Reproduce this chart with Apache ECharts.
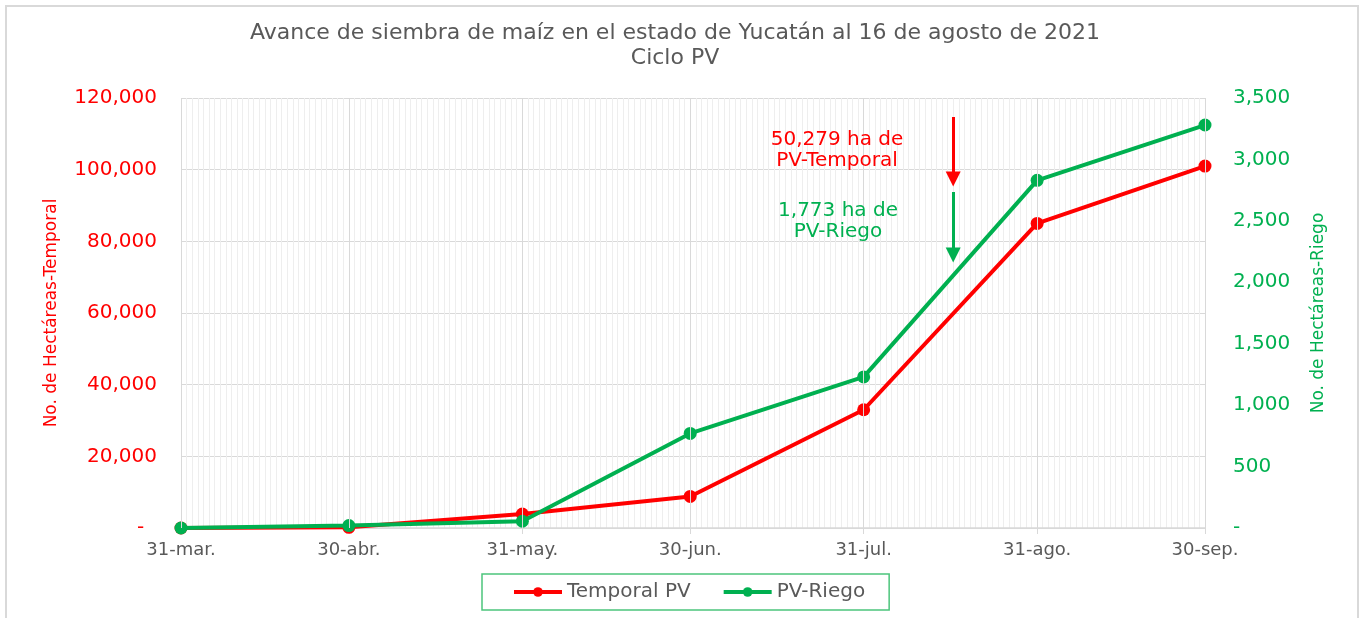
<!DOCTYPE html>
<html>
<head>
<meta charset="utf-8">
<script src="https://cdn.jsdelivr.net/npm/echarts@6/dist/echarts.min.js"></script>
<style>html,body{margin:0;padding:0;background:#fff;}#c{width:1364px;height:618px;}</style>
</head>
<body>
<div id="c"></div>
<script>
const dates = ['2021-03-31','2021-04-30','2021-05-31','2021-06-30','2021-07-31','2021-08-31','2021-09-30'];
const dateLabels = ['31-mar.','30-abr.','31-may.','30-jun.','31-jul.','31-ago.','30-sep.'];
const temporal = [0, 200, 3900, 8800, 33000, 85000, 101000];
const riego = [0, 20, 55, 770, 1230, 2830, 3280];
const leftAxis = {min: 0, max: 120000, interval: 20000};
const rightAxis = {min: 0, max: 3500, interval: 500};
const cutoffDate = '2021-08-16';
const temporalArrow = [114700, 97400];
const riegoArrow = [2735, 2222];
const temporalNote = '50,279 ha de\nPV-Temporal';
const riegoNote = '1,773 ha de\nPV-Riego';
const titleText = 'Avance de siembra de maíz en el estado de Yucatán al 16 de agosto de 2021\nCiclo PV';

const DAY = 86400000;
function ts(s){const p=s.split('-').map(Number);return Date.UTC(p[0],p[1]-1,p[2]);}
function dayIdx(s){return Math.round((ts(s) - ts(dates[0]))/DAY);}
const dayPos = dates.map(dayIdx);
const nDays = dayPos[dayPos.length-1];
const labelMap = {};
dayPos.forEach((d,i)=>{labelMap[d] = dateLabels[i];});

const FONT = 'DejaVu Sans';
const RED = '#ff0000', GREEN = '#00b050', GRAY = '#595959';

const chart = echarts.init(document.getElementById('c'));
chart.setOption({
  animation: false,
  textStyle: {fontFamily: FONT},
  grid: {left: 181, right: 159, top: 98, bottom: 90, containLabel: false},
  graphic: [
    {type: 'rect', z: 0, shape: {x: 6, y: 6, width: 1352, height: 640}, style: {fill: 'none', stroke: '#d9d9d9', lineWidth: 2}, silent: true},
    {type: 'text', z: 10, x: 675, y: 46, silent: true, style: {text: titleText, fill: GRAY, fontSize: 22, fontFamily: FONT, align: 'center', verticalAlign: 'middle', lineHeight: 25}},
    {type: 'text', z: 10, x: 837, y: 150, silent: true, style: {text: temporalNote, fill: RED, fontSize: 20, fontFamily: FONT, align: 'center', verticalAlign: 'middle', lineHeight: 21}},
    {type: 'text', z: 10, x: 838, y: 221, silent: true, style: {text: riegoNote, fill: GREEN, fontSize: 20, fontFamily: FONT, align: 'center', verticalAlign: 'middle', lineHeight: 21}}
  ],
  legend: {
    data: ['Temporal PV', 'PV-Riego'],
    left: 482, top: 574,
    itemWidth: 48, itemHeight: 12, itemGap: 31,
    padding: [8, 24, 8, 30],
    borderColor: '#4cc57c', borderWidth: 1.5,
    lineStyle: {width: 4},
    textStyle: {color: GRAY, fontSize: 20, fontFamily: FONT}
  },
  xAxis: [
    {
      type: 'value', min: 0, max: nDays, interval: 1, position: 'bottom',
      axisLine: {lineStyle: {color: '#d9d9d9', width: 1.5}},
      axisTick: {show: true, customValues: dayPos, length: 6, lineStyle: {color: '#d9d9d9'}},
      axisLabel: {customValues: dayPos, formatter: v => labelMap[v] || '', color: GRAY, fontSize: 18, margin: 13, fontFamily: FONT},
      splitLine: {show: false}
    },
    {
      type: 'value', min: 0, max: nDays, interval: 1, position: 'top',
      axisLine: {show: false}, axisTick: {show: false}, axisLabel: {show: false},
      splitLine: {show: true, lineStyle: {color: '#eeeeee', width: 1}}
    }
  ],
  yAxis: [
    {
      type: 'value', min: leftAxis.min, max: leftAxis.max, interval: leftAxis.interval, position: 'left',
      name: 'No. de Hectáreas-Temporal', nameLocation: 'middle', nameGap: 121,
      nameTextStyle: {color: RED, fontSize: 17, fontFamily: FONT},
      axisLine: {show: false}, axisTick: {show: false},
      axisLabel: {color: RED, fontSize: 20, margin: 24, fontFamily: FONT, formatter: v => v === 0 ? '-  ' : v.toLocaleString('en-US')},
      splitLine: {show: true, lineStyle: {color: '#d9d9d9', width: 1}}
    },
    {
      type: 'value', min: rightAxis.min, max: rightAxis.max, interval: rightAxis.interval, position: 'right',
      name: 'No. de Hectáreas-Riego', nameLocation: 'middle', nameGap: 105,
      nameTextStyle: {color: GREEN, fontSize: 17, fontFamily: FONT},
      axisLine: {show: false}, axisTick: {show: false},
      axisLabel: {color: GREEN, fontSize: 20, margin: 28, fontFamily: FONT, formatter: v => v === 0 ? '-' : v.toLocaleString('en-US')},
      splitLine: {show: false}
    }
  ],
  series: [
    {
      name: 'grid-major', type: 'line', data: [], xAxisIndex: 0, yAxisIndex: 0, z: 1, silent: true,
      markLine: {silent: true, symbol: 'none', animation: false, label: {show: false},
        lineStyle: {color: '#d9d9d9', width: 1, type: 'solid'},
        data: dayPos.map(d => ({xAxis: d}))}
    },
    {
      name: 'Temporal PV', type: 'line', xAxisIndex: 0, yAxisIndex: 0, z: 3,
      data: dayPos.map((d,i) => [d, temporal[i]]),
      symbol: 'circle', symbolSize: 13, showSymbol: true,
      lineStyle: {color: RED, width: 4}, itemStyle: {color: RED},
      markLine: {silent: true, symbol: ['none', 'triangle'], symbolSize: 15, label: {show: false},
        lineStyle: {color: RED, width: 3, type: 'solid'},
        data: [[{coord: [dayIdx(cutoffDate), temporalArrow[0]]}, {coord: [dayIdx(cutoffDate), temporalArrow[1]]}]]}
    },
    {
      name: 'PV-Riego', type: 'line', xAxisIndex: 0, yAxisIndex: 1, z: 4,
      data: dayPos.map((d,i) => [d, riego[i]]),
      symbol: 'circle', symbolSize: 13, showSymbol: true,
      lineStyle: {color: GREEN, width: 4}, itemStyle: {color: GREEN},
      markLine: {silent: true, symbol: ['none', 'triangle'], symbolSize: 15, label: {show: false},
        lineStyle: {color: GREEN, width: 3, type: 'solid'},
        data: [[{coord: [dayIdx(cutoffDate), riegoArrow[0]]}, {coord: [dayIdx(cutoffDate), riegoArrow[1]]}]]}
    }
  ]
});
</script>
</body>
</html>
